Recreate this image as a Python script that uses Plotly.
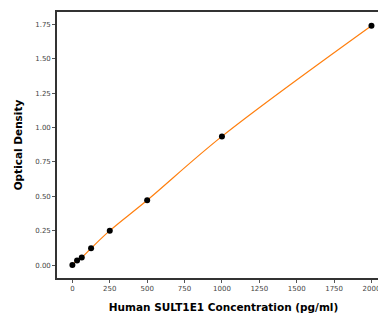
import plotly.graph_objects as go

concentration = [0, 31.25, 62.5, 125, 250, 500, 1000, 2000]
optical_density = [0.0, 0.033, 0.055, 0.122, 0.25, 0.471, 0.935, 1.739]

x_ticks = [0, 250, 500, 750, 1000, 1250, 1500, 1750, 2000]
y_ticks = [0.0, 0.25, 0.5, 0.75, 1.0, 1.25, 1.5, 1.75]

fig = go.Figure()
fig.add_trace(go.Scatter(
    x=concentration, y=optical_density, mode="lines",
    line=dict(color="#ff7f0e", width=1.2, shape="spline"),
    hoverinfo="skip", showlegend=False))
fig.add_trace(go.Scatter(
    x=concentration, y=optical_density, mode="markers",
    marker=dict(color="black", size=6), showlegend=False))

font_tick = dict(family="DejaVu Sans", size=7, color="#444")
font_title = dict(family="DejaVu Sans", size=10.5, color="black")

fig.update_layout(
    width=390, height=313,
    margin=dict(l=57, r=0, t=12, b=35),
    paper_bgcolor="white", plot_bgcolor="white",
    xaxis=dict(range=[-103, 2124], tickvals=x_ticks,
               ticktext=[str(v) for v in x_ticks],
               showgrid=False, zeroline=False,
               showline=True, linecolor="#333", linewidth=1.6, mirror=True,
               ticks="outside", ticklen=3, tickcolor="#555", tickwidth=0.8,
               tickfont=font_tick,
               title=dict(text="<b>Human SULT1E1 Concentration (pg/ml)</b>",
                          font=font_title, standoff=25),
               automargin=False),
    yaxis=dict(range=[-0.094, 1.839], tickvals=y_ticks,
               ticktext=[f"{v:.2f}" for v in y_ticks],
               showgrid=False, zeroline=False,
               showline=True, linecolor="#333", linewidth=1.6, mirror=False,
               ticks="outside", ticklen=3, tickcolor="#555", tickwidth=0.8,
               tickfont=font_tick,
               title=dict(text="<b>Optical Density</b>", font=font_title, standoff=11),
               automargin=False),
)

fig.write_html("out.html", config={"displayModeBar": False},
               post_script="document.body.style.margin='0';document.body.style.overflow='hidden';")
